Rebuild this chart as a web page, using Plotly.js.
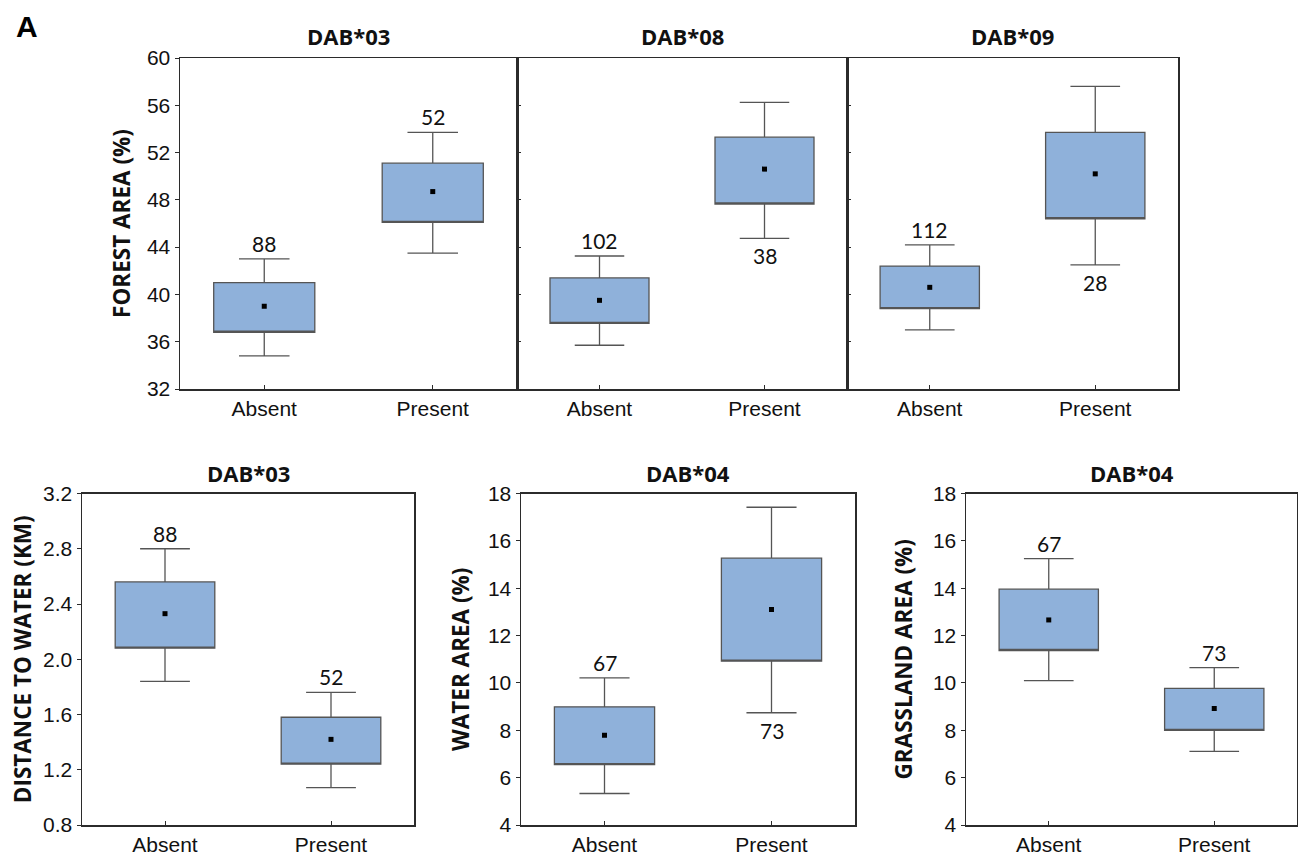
<!DOCTYPE html>
<html>
<head>
<meta charset="utf-8">
<script src="https://cdn.plot.ly/plotly-3.0.1.min.js"></script>
<style>html,body{margin:0;padding:0;background:#fff;}#chart{width:1298px;height:855px;}</style>
</head>
<body>
<div id="chart"></div>
<script>
// ---------- DATA ----------
const categories = ['Absent', 'Present'];

// Forest area (%) – DAB*03
const forest03Mean = [39.0, 48.7];
const forest03BoxLow = [36.8, 46.1];
const forest03BoxHigh = [41.0, 51.1];
const forest03WhiskerLow = [34.8, 43.5];
const forest03WhiskerHigh = [43.0, 53.7];
const forest03N = [88, 52];
const forest03LabelPos = ['above', 'above'];

// Forest area (%) – DAB*08
const forest08Mean = [39.5, 50.6];
const forest08BoxLow = [37.55, 47.65];
const forest08BoxHigh = [41.4, 53.3];
const forest08WhiskerLow = [35.7, 44.75];
const forest08WhiskerHigh = [43.25, 56.25];
const forest08N = [102, 38];
const forest08LabelPos = ['above', 'below'];

// Forest area (%) – DAB*09
const forest09Mean = [40.6, 50.2];
const forest09BoxLow = [38.8, 46.4];
const forest09BoxHigh = [42.4, 53.7];
const forest09WhiskerLow = [37.0, 42.5];
const forest09WhiskerHigh = [44.2, 57.6];
const forest09N = [112, 28];
const forest09LabelPos = ['above', 'below'];

// Distance to water (km) – DAB*03
const dist03Mean = [2.33, 1.42];
const dist03BoxLow = [2.08, 1.24];
const dist03BoxHigh = [2.56, 1.58];
const dist03WhiskerLow = [1.84, 1.07];
const dist03WhiskerHigh = [2.80, 1.76];
const dist03N = [88, 52];
const dist03LabelPos = ['above', 'above'];

// Water area (%) – DAB*04
const water04Mean = [7.79, 13.10];
const water04BoxLow = [6.55, 10.92];
const water04BoxHigh = [8.99, 15.27];
const water04WhiskerLow = [5.33, 8.74];
const water04WhiskerHigh = [10.21, 17.42];
const water04N = [67, 73];
const water04LabelPos = ['above', 'below'];

// Grassland area (%) – DAB*04
const grass04Mean = [12.66, 8.92];
const grass04BoxLow = [11.37, 8.0];
const grass04BoxHigh = [13.96, 9.77];
const grass04WhiskerLow = [10.10, 7.11];
const grass04WhiskerHigh = [15.25, 10.65];
const grass04N = [67, 73];
const grass04LabelPos = ['above', 'above'];

const panelTitles = ['DAB*03', 'DAB*08', 'DAB*09', 'DAB*03', 'DAB*04', 'DAB*04'];
const yTitles = ['FOREST AREA (%)', '', '', 'DISTANCE TO WATER (KM)', 'WATER AREA (%)', 'GRASSLAND AREA (%)'];

// ---------- BUILD ----------
const panels = [
  {mean: forest03Mean, lo: forest03BoxLow, hi: forest03BoxHigh, wl: forest03WhiskerLow, wh: forest03WhiskerHigh, n: forest03N, pos: forest03LabelPos},
  {mean: forest08Mean, lo: forest08BoxLow, hi: forest08BoxHigh, wl: forest08WhiskerLow, wh: forest08WhiskerHigh, n: forest08N, pos: forest08LabelPos},
  {mean: forest09Mean, lo: forest09BoxLow, hi: forest09BoxHigh, wl: forest09WhiskerLow, wh: forest09WhiskerHigh, n: forest09N, pos: forest09LabelPos},
  {mean: dist03Mean, lo: dist03BoxLow, hi: dist03BoxHigh, wl: dist03WhiskerLow, wh: dist03WhiskerHigh, n: dist03N, pos: dist03LabelPos},
  {mean: water04Mean, lo: water04BoxLow, hi: water04BoxHigh, wl: water04WhiskerLow, wh: water04WhiskerHigh, n: water04N, pos: water04LabelPos},
  {mean: grass04Mean, lo: grass04BoxLow, hi: grass04BoxHigh, wl: grass04WhiskerLow, wh: grass04WhiskerHigh, n: grass04N, pos: grass04LabelPos}
];

const W = 1298, H = 855;
const xDom = [[180, 517], [517, 847], [847, 1178], [82, 414], [521, 855], [966, 1297]];
const yDom = [[58, 389], [58, 389], [58, 389], [493.5, 825], [493.5, 825], [493.5, 825]];
const titleY = [36, 36, 36, 472.5, 472.5, 472.5];
const yRanges = [[32, 60], [32, 60], [32, 60], [0.8, 3.2], [4, 18], [4, 18]];
const yDtick = [4, 4, 4, 0.4, 2, 2];
const yStandoff = [10, 0, 0, 5, 12, 14];

const boxFill = '#8fb1da';
const edge = '#555555';
const axisCol = '#2b2b2b';
const tickFont = {family: 'Liberation Sans, Arial, sans-serif', size: 21, color: '#111'};
const titleFont = {family: 'Open Sans, sans-serif', size: 22, color: '#111', weight: 700};
const axTitleFont = {family: 'Open Sans, sans-serif', size: 22.5, color: '#111', weight: 700};
const countFont = {family: 'Lato, sans-serif', size: 21, color: '#111'};

const data = [];
const annotations = [];
const layout = {
  width: W, height: H,
  margin: {l: 0, r: 0, t: 0, b: 0},
  paper_bgcolor: '#fff', plot_bgcolor: '#fff',
  showlegend: false,
  annotations: annotations
};

panels.forEach((p, i) => {
  const k = i === 0 ? '' : String(i + 1);
  const xa = 'x' + k, ya = 'y' + k;
  data.push({
    type: 'box', x: categories,
    q1: p.lo, median: p.lo, q3: p.hi,
    lowerfence: p.wl, upperfence: p.wh,
    xaxis: xa, yaxis: ya,
    fillcolor: boxFill, line: {color: edge, width: 1.3},
    width: 0.6, whiskerwidth: 0.5, boxpoints: false,
    hoverinfo: 'skip'
  });
  data.push({
    type: 'scatter', mode: 'markers', x: categories, y: p.mean,
    xaxis: xa, yaxis: ya,
    marker: {symbol: 'square', size: 5, color: '#000'},
    hoverinfo: 'x+y'
  });
  p.n.forEach((n, j) => {
    const above = p.pos[j] === 'above';
    annotations.push({
      xref: xa, yref: ya, x: categories[j], y: above ? p.wh[j] : p.wl[j],
      yanchor: above ? 'bottom' : 'top', yshift: above ? 1 : -3,
      text: String(n), showarrow: false, font: countFont
    });
  });
  annotations.push({
    xref: xa + ' domain', yref: 'paper', x: 0.5, y: 1 - titleY[i] / H,
    yanchor: 'middle', text: '<b>' + panelTitles[i] + '</b>', showarrow: false, font: titleFont
  });
  layout['xaxis' + k] = {
    domain: [xDom[i][0] / W, xDom[i][1] / W], anchor: ya,
    type: 'category', range: [-0.5, 1.5],
    showline: true, linecolor: axisCol, linewidth: 1.5, mirror: true,
    ticks: 'inside', ticklen: 4, tickcolor: axisCol, tickwidth: 1,
    tickfont: tickFont, showgrid: false, zeroline: false, fixedrange: true
  };
  const inner = (i === 1 || i === 2);
  const yax = {
    domain: [1 - yDom[i][1] / H, 1 - yDom[i][0] / H], anchor: xa,
    range: yRanges[i], dtick: yDtick[i], tick0: 0,
    showline: true, linecolor: axisCol, linewidth: 1.5, mirror: true,
    ticks: inner ? 'inside' : 'outside', ticklen: 4, tickcolor: axisCol, tickwidth: 1,
    showticklabels: !inner,
    tickfont: tickFont, showgrid: false, zeroline: false, fixedrange: true
  };
  if (i === 3) yax.tickformat = '.1f';
  if (yTitles[i]) yax.title = {text: '<b>' + yTitles[i] + '</b>', font: axTitleFont, standoff: yStandoff[i]};
  layout['yaxis' + k] = yax;
});

annotations.push({
  xref: 'paper', yref: 'paper', x: 14 / W, y: 1 - 8 / H, xanchor: 'left', yanchor: 'top',
  text: '<b>A</b>', showarrow: false, font: {family: 'Liberation Sans, Arial, sans-serif', size: 30, color: '#000'}
});

Plotly.newPlot('chart', data, layout, {staticPlot: true, displayModeBar: false});
</script>
</body>
</html>
